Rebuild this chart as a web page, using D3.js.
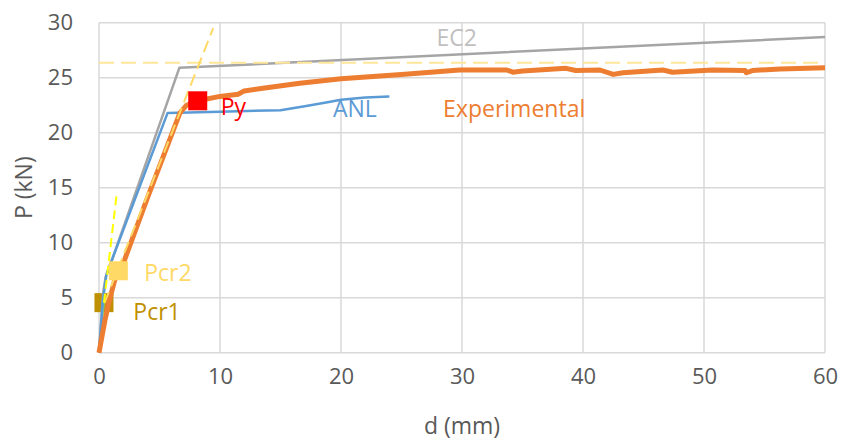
<!DOCTYPE html>
<html>
<head>
<meta charset="utf-8">
<script src="https://cdn.jsdelivr.net/npm/d3@7"></script>
<style>
  body { margin: 0; background: #fff; }
  text { font-family: "Open Sans", sans-serif; }
</style>
</head>
<body>
<svg width="843" height="441"></svg>
<script>
// axis ticks
const xTicks = [0, 10, 20, 30, 40, 50, 60];
const yTicks = [0, 5, 10, 15, 20, 25, 30];

// Experimental curve (d mm, P kN)
const expD = [0, 0.3, 0.5, 0.8, 1.3, 2.0, 3.94, 6.69, 7.24, 8.16, 10, 11.5, 12, 14, 16.6, 20, 25, 29.8, 33.7, 34.2, 35, 38.6, 39.4, 41.4, 42.5, 43.3, 46.6, 47.4, 50.7, 53.4, 53.5, 54, 56.3, 60];
const expP = [0, 1.8, 3.0, 4.5, 6.6, 8.1, 13.9, 21.8, 22.5, 22.9, 23.3, 23.5, 23.8, 24.1, 24.5, 24.9, 25.3, 25.7, 25.7, 25.5, 25.6, 25.85, 25.65, 25.7, 25.3, 25.45, 25.7, 25.5, 25.7, 25.65, 25.45, 25.65, 25.8, 25.9];

// ANL curve
const anlD = [0, 0.3, 0.6, 0.85, 5.67, 10, 15, 17, 19, 20, 22, 24];
const anlP = [0, 4.5, 7.0, 7.8, 21.8, 21.9, 22.05, 22.4, 22.8, 23.0, 23.2, 23.3];

// EC2 curve
const ec2D = [0, 0.15, 0.35, 0.55, 0.8, 1.0, 6.64, 60];
const ec2P = [0, 2.5, 5.5, 6.9, 7.7, 8.2, 25.9, 28.7];

// construction lines
const yieldLineD = [0.45, 9.44];
const yieldLineP = [4.5, 29.5];
const plateauD = [0, 60];
const plateauP = [26.35, 26.35];
const initLineD = [0.41, 1.45];
const initLineP = [4.55, 14.3];
const greenD = [0, 0.41];
const greenP = [0, 4.55];

// key points
const pointNames = ['Pcr1', 'Pcr2', 'Py'];
const pointD = [0.41, 1.6, 8.16];
const pointP = [4.55, 7.45, 22.9];

// labels
const labelText = ['EC2', 'ANL', 'Experimental', 'Py', 'Pcr2', 'Pcr1'];
const labelD = [27.9, 19.34, 28.44, 10.06, 3.74, 2.84];
const labelP = [27.9, 21.43, 21.4, 21.6, 6.5, 2.97];
const labelColor = ['#BFBFBF', '#5B9BD5', '#ED7D31', '#FF0000', '#FFD966', '#BF9000'];

const svg = d3.select('svg');
const mLeft = 99, mRight = 825, mTop = 22.7, mBottom = 352.7;

const x = d3.scaleLinear().domain([0, 60]).range([mLeft, mRight]);
const y = d3.scaleLinear().domain([0, 30]).range([mBottom, mTop]);

// grid
svg.append('g')
  .selectAll('line')
  .data(yTicks)
  .enter().append('line')
  .attr('x1', mLeft).attr('x2', mRight)
  .attr('y1', d => y(d)).attr('y2', d => y(d))
  .attr('stroke', '#D9D9D9').attr('stroke-width', 1.5);

svg.append('g')
  .selectAll('line')
  .data(xTicks)
  .enter().append('line')
  .attr('x1', d => x(d)).attr('x2', d => x(d))
  .attr('y1', mTop).attr('y2', mBottom)
  .attr('stroke', '#D9D9D9').attr('stroke-width', 1.5);

// axes (labels only)
const xAxis = svg.append('g')
  .attr('transform', `translate(0,${mBottom})`)
  .call(d3.axisBottom(x).tickValues(xTicks).tickSize(0).tickPadding(24));
const yAxis = svg.append('g')
  .attr('transform', `translate(${mLeft},0)`)
  .call(d3.axisLeft(y).tickValues(yTicks).tickSize(0).tickPadding(26));
[xAxis, yAxis].forEach(a => {
  a.select('.domain').remove();
  a.selectAll('text')
    .attr('fill', '#595959')
    .style('font-size', '22px')
    .style('font-family', '"Open Sans", sans-serif');
});
xAxis.selectAll('text').attr('dy', '0.32em');

svg.append('text')
  .attr('x', (mLeft + mRight) / 2).attr('y', 434)
  .attr('text-anchor', 'middle')
  .attr('fill', '#595959').style('font-size', '23px')
  .text('d (mm)');

svg.append('text')
  .attr('transform', `translate(32,${(mTop + mBottom) / 2}) rotate(-90)`)
  .attr('text-anchor', 'middle')
  .attr('fill', '#595959').style('font-size', '23px')
  .text('P (kN)');

const line = d3.line().x(d => x(d[0])).y(d => y(d[1]));
const pairs = (ds, ps) => ds.map((d, i) => [d, ps[i]]);

// Pcr1 marker sits under the curves
const sq = 19;
svg.append('rect')
  .attr('x', x(pointD[0]) - sq / 2).attr('y', y(pointP[0]) - sq / 2)
  .attr('width', sq).attr('height', sq)
  .attr('fill', '#BF9000');

svg.append('path').datum(pairs(greenD, greenP))
  .attr('d', line).attr('fill', 'none')
  .attr('stroke', '#92D050').attr('stroke-width', 2);

svg.append('path').datum(pairs(ec2D, ec2P))
  .attr('d', line).attr('fill', 'none')
  .attr('stroke', '#A5A5A5').attr('stroke-width', 2.5)
  .attr('stroke-linejoin', 'round');

svg.append('path').datum(pairs(anlD, anlP))
  .attr('d', line).attr('fill', 'none')
  .attr('stroke', '#5B9BD5').attr('stroke-width', 2.5)
  .attr('stroke-linejoin', 'round');

svg.append('path').datum(pairs(expD, expP))
  .attr('d', line).attr('fill', 'none')
  .attr('stroke', '#ED7D31').attr('stroke-width', 5)
  .attr('stroke-linejoin', 'round');

// dashed construction lines
svg.append('path').datum(pairs(plateauD, plateauP))
  .attr('d', line).attr('fill', 'none')
  .attr('stroke', '#FFE699').attr('stroke-width', 2)
  .attr('stroke-dasharray', '15,7');

svg.append('path').datum(pairs(yieldLineD, yieldLineP))
  .attr('d', line).attr('fill', 'none')
  .attr('stroke', '#FFD966').attr('stroke-width', 2)
  .attr('stroke-dasharray', '12,6');

svg.append('path').datum(pairs(initLineD, initLineP))
  .attr('d', line).attr('fill', 'none')
  .attr('stroke', '#FFFF00').attr('stroke-width', 2)
  .attr('stroke-dasharray', '9,5');

// Pcr2 and Py markers
const markColor = ['#BF9000', '#FFD966', '#FF0000'];
svg.append('g')
  .selectAll('rect')
  .data(pointNames.slice(1))
  .enter().append('rect')
  .attr('x', (d, i) => x(pointD[i + 1]) - sq / 2)
  .attr('y', (d, i) => y(pointP[i + 1]) - sq / 2)
  .attr('width', sq).attr('height', sq)
  .attr('fill', (d, i) => markColor[i + 1]);

// labels
svg.append('g')
  .selectAll('text')
  .data(labelText)
  .enter().append('text')
  .attr('x', (d, i) => x(labelD[i]))
  .attr('y', (d, i) => y(labelP[i]))
  .attr('fill', (d, i) => labelColor[i])
  .style('font-size', '23px')
  .text(d => d);
</script>
</body>
</html>
